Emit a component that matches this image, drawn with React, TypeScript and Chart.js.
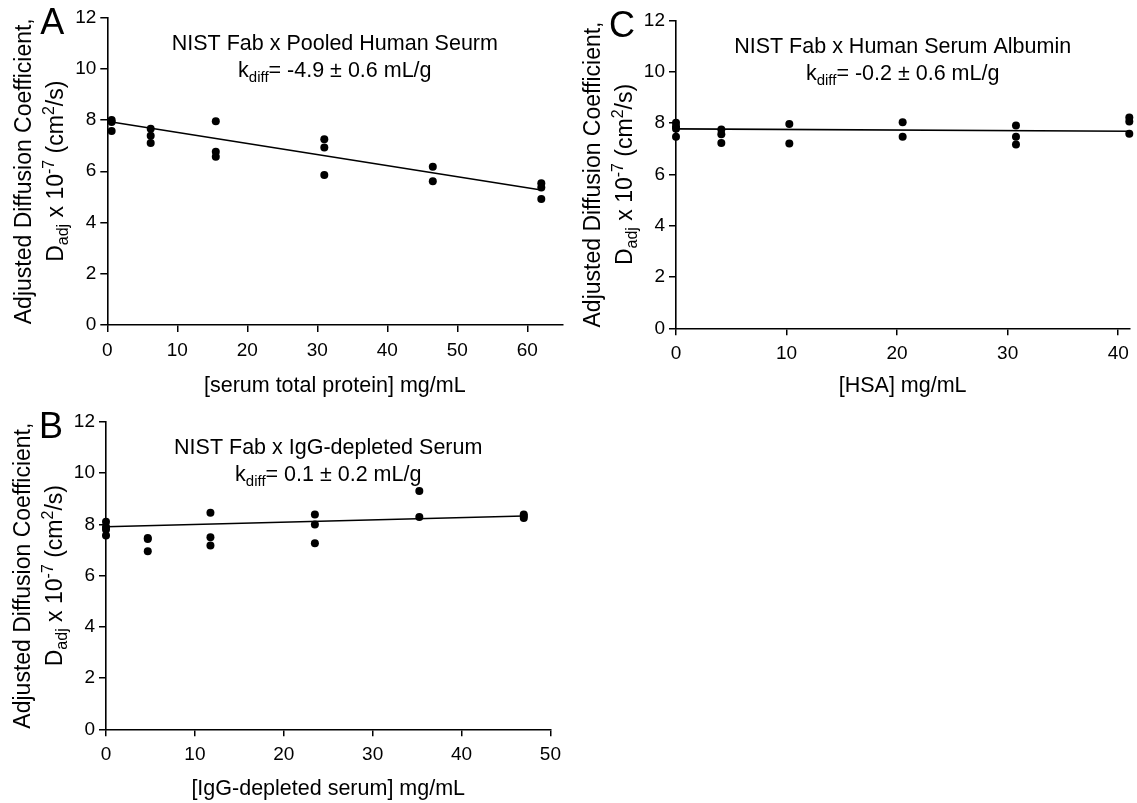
import React, { useEffect, useRef } from "react";
import { Chart, registerables } from "chart.js";

Chart.register(...registerables);

const FONT = "'Liberation Sans', Arial, Helvetica, sans-serif";

// ---- Panel A: NIST Fab x Pooled Human Serum ----
const aX = [0.62, 0.62, 0.62, 6.2, 6.2, 6.2, 15.5, 15.5, 15.5, 31, 31, 31, 46.5, 46.5, 62, 62, 62];
const aY = [8.0, 7.92, 7.57, 7.66, 7.39, 7.1, 7.95, 6.76, 6.57, 7.25, 6.93, 5.85, 6.18, 5.61, 5.53, 5.37, 4.92];
const aFitX = [0.62, 62];
const aFitY = [7.92, 5.27];
const aTicksX = [0, 10, 20, 30, 40, 50, 60];

// ---- Panel B: NIST Fab x IgG-depleted Serum ----
const bX = [0, 0, 0, 0, 4.7, 4.7, 4.7, 11.75, 11.75, 11.75, 23.5, 23.5, 23.5, 35.25, 35.25, 47, 47, 47];
const bY = [8.1, 7.9, 7.8, 7.57, 7.47, 7.43, 6.95, 8.46, 7.5, 7.18, 8.39, 8.0, 7.27, 9.31, 8.29, 8.39, 8.33, 8.25];
const bFitX = [0, 47];
const bFitY = [7.91, 8.33];
const bTicksX = [0, 10, 20, 30, 40, 50];

// ---- Panel C: NIST Fab x Human Serum Albumin ----
const cX = [0, 0, 0, 0, 4.1, 4.1, 4.1, 10.25, 10.25, 20.5, 20.5, 30.75, 30.75, 30.75, 41, 41, 41];
const cY = [8.02, 7.87, 7.78, 7.47, 7.76, 7.57, 7.23, 7.97, 7.21, 8.04, 7.47, 7.91, 7.47, 7.17, 8.22, 8.07, 7.59];
const cFitX = [0, 41];
const cFitY = [7.78, 7.69];
const cTicksX = [0, 10, 20, 30, 40];

const yTicks = [0, 2, 4, 6, 8, 10, 12];

type Seg = { t: string; size: number; dy: number };

function drawRich(ctx: CanvasRenderingContext2D, segs: Seg[], cx: number, baseY: number) {
  let total = 0;
  const widths = segs.map((s) => {
    ctx.font = `${s.size}px ${FONT}`;
    const w = ctx.measureText(s.t).width;
    total += w;
    return w;
  });
  let x = cx - total / 2;
  ctx.textAlign = "left";
  ctx.textBaseline = "alphabetic";
  segs.forEach((s, i) => {
    ctx.font = `${s.size}px ${FONT}`;
    ctx.fillText(s.t, x, baseY + s.dy);
    x += widths[i];
  });
}

type Panel = {
  letter: string;
  title: string;
  kText: string;
  xTitle: string;
  xs: number[];
  ys: number[];
  fitX: number[];
  fitY: number[];
  ticksX: number[];
  xMax: number;
  left: number;
  top: number;
  width: number;
  height: number;
  plotL: number;
  plotR: number;
  plotT: number;
  plotB: number;
};

const panels: Panel[] = [
  {
    letter: "A",
    title: "NIST Fab x Pooled Human Seurm",
    kText: "= -4.9 ± 0.6 mL/g",
    xTitle: "[serum total protein] mg/mL",
    xs: aX, ys: aY, fitX: aFitX, fitY: aFitY, ticksX: aTicksX, xMax: 65,
    left: 0, top: 0, width: 568, height: 400,
    plotL: 107.3, plotR: 562.3, plotT: 17.5, plotB: 325,
  },
  {
    letter: "C",
    title: "NIST Fab x Human Serum Albumin",
    kText: "= -0.2 ± 0.6 mL/g",
    xTitle: "[HSA] mg/mL",
    xs: cX, ys: cY, fitX: cFitX, fitY: cFitY, ticksX: cTicksX, xMax: 41,
    left: 568, top: 0, width: 569, height: 400,
    plotL: 108, plotR: 561.3, plotT: 20.7, plotB: 328.3,
  },
  {
    letter: "B",
    title: "NIST Fab x IgG-depleted Serum",
    kText: "= 0.1 ± 0.2 mL/g",
    xTitle: "[IgG-depleted serum] mg/mL",
    xs: bX, ys: bY, fitX: bFitX, fitY: bFitY, ticksX: bTicksX, xMax: 50,
    left: 0, top: 400, width: 568, height: 403,
    plotL: 106, plotR: 552.7, plotT: 22, plotB: 329.3,
  },
];

function PanelChart({ p }: { p: Panel }) {
  const ref = useRef<HTMLCanvasElement | null>(null);
  useEffect(() => {
    if (!ref.current) return;
    const textPlugin = {
      id: "panelText" + p.letter,
      afterDraw(chart: any) {
        const ctx: CanvasRenderingContext2D = chart.ctx;
        const ca = chart.chartArea;
        ctx.save();
        ctx.fillStyle = "#000";
        ctx.font = `36px ${FONT}`;
        ctx.textAlign = "left";
        ctx.textBaseline = "alphabetic";
        ctx.fillText(p.letter, ca.left - 67, ca.top + 16);
        const cx = (ca.left + ca.right) / 2;
        drawRich(ctx, [{ t: p.title, size: 21.5, dy: 0 }], cx, ca.top + 32);
        drawRich(
          ctx,
          [
            { t: "k", size: 21.5, dy: 0 },
            { t: "diff", size: 15, dy: 5 },
            { t: p.kText, size: 21.5, dy: 0 },
          ],
          cx,
          ca.top + 59
        );
        const cy = (ca.top + ca.bottom) / 2;
        ctx.save();
        ctx.translate(ca.left - 76, cy);
        ctx.rotate(-Math.PI / 2);
        drawRich(ctx, [{ t: "Adjusted Diffusion Coefficient,", size: 23, dy: 0 }], 0, 0);
        ctx.restore();
        ctx.save();
        ctx.translate(ca.left - 44, cy);
        ctx.rotate(-Math.PI / 2);
        drawRich(
          ctx,
          [
            { t: "D", size: 23, dy: 0 },
            { t: "adj", size: 16, dy: 5 },
            { t: " x 10", size: 23, dy: 0 },
            { t: "-7", size: 16, dy: -9 },
            { t: " (cm", size: 23, dy: 0 },
            { t: "2", size: 16, dy: -9 },
            { t: "/s)", size: 23, dy: 0 },
          ],
          0,
          0
        );
        ctx.restore();
        ctx.restore();
      },
    };

    const chart = new Chart(ref.current, {
      type: "scatter",
      data: {
        datasets: [
          {
            type: "scatter",
            data: p.xs.map((x, i) => ({ x, y: p.ys[i] })),
            pointRadius: 4,
            pointBackgroundColor: "#000",
            pointBorderWidth: 0,
            clip: false,
            order: 1,
          } as any,
          {
            type: "line",
            data: p.fitX.map((x, i) => ({ x, y: p.fitY[i] })),
            borderColor: "#000",
            borderWidth: 1.6,
            pointRadius: 0,
            fill: false,
            clip: false,
            order: 2,
          } as any,
        ],
      },
      options: {
        animation: false,
        responsive: false,
        devicePixelRatio: 1,
        events: [],
        layout: {
          padding: { left: 0, top: p.plotT, right: p.width - p.plotR, bottom: 0 },
        },
        plugins: {
          legend: { display: false },
          tooltip: { enabled: false },
          title: { display: false },
        },
        scales: {
          x: {
            type: "linear",
            min: 0,
            max: p.xMax,
            afterFit: (s: any) => {
              s.height = p.height - p.plotB;
            },
            afterBuildTicks: (s: any) => {
              s.ticks = p.ticksX.map((v) => ({ value: v }));
            },
            ticks: {
              font: { size: 19, family: FONT },
              color: "#000",
              padding: 7,
              maxRotation: 0,
              autoSkip: false,
            },
            grid: {
              drawOnChartArea: false,
              drawTicks: true,
              tickLength: 7,
              color: "#000",
              lineWidth: 1.5,
            },
            border: { display: true, color: "#000", width: 1.6 },
            title: {
              display: true,
              text: p.xTitle,
              font: { size: 21.5, family: FONT },
              color: "#000",
              padding: { top: 0, bottom: 1 },
            },
          },
          y: {
            type: "linear",
            min: 0,
            max: 12,
            afterFit: (s: any) => {
              s.width = p.plotL;
            },
            afterBuildTicks: (s: any) => {
              s.ticks = yTicks.map((v) => ({ value: v }));
            },
            ticks: {
              font: { size: 19, family: FONT },
              color: "#000",
              padding: 4,
              autoSkip: false,
            },
            grid: {
              drawOnChartArea: false,
              drawTicks: true,
              tickLength: 7,
              color: "#000",
              lineWidth: 1.5,
            },
            border: { display: true, color: "#000", width: 1.6 },
            title: { display: false },
          },
        },
      } as any,
      plugins: [textPlugin],
    });
    return () => chart.destroy();
  }, [p]);

  return (
    <canvas
      ref={ref}
      width={p.width}
      height={p.height}
      style={{
        position: "absolute",
        left: p.left,
        top: p.top,
        width: p.width,
        height: p.height,
      }}
    />
  );
}

export default function App() {
  return (
    <div
      style={{
        position: "absolute",
        left: 0,
        top: 0,
        width: 1137,
        height: 803,
        background: "#fff",
        overflow: "hidden",
      }}
    >
      {panels.map((p) => (
        <PanelChart key={p.letter} p={p} />
      ))}
    </div>
  );
}
